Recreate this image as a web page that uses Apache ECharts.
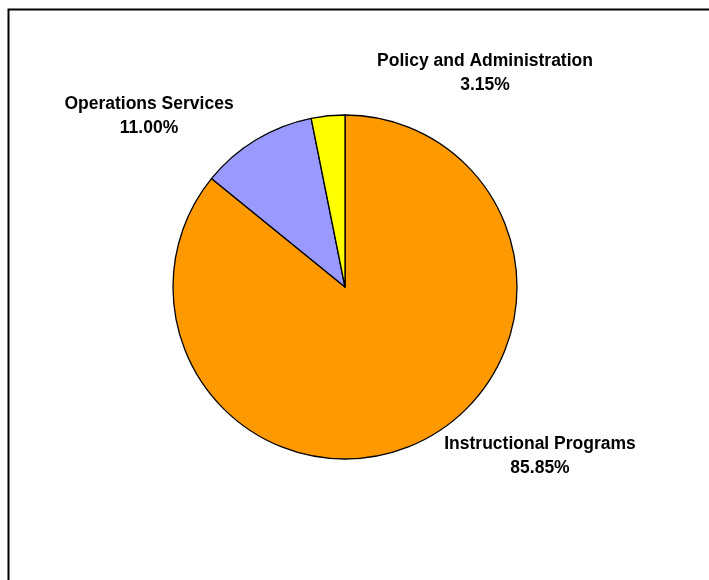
<!DOCTYPE html>
<html>
<head>
<meta charset="utf-8">
<script src="https://cdn.jsdelivr.net/npm/echarts@6/dist/echarts.min.js"></script>
<style>html,body{margin:0;padding:0;background:#fff;}#c{width:709px;height:580px;}</style>
</head>
<body>
<div id="c"></div>
<script>
const categories = ['Instructional Programs', 'Operations Services', 'Policy and Administration'];
const values = [85.85, 11.00, 3.15];
const colors = ['#FF9900', '#9999FF', '#FFFF00'];
const labelPos = [[540, 456], [149, 116], [485, 73]];

const chart = echarts.init(document.getElementById('c'), null, {renderer: 'canvas'});
chart.setOption({
  animation: false,
  backgroundColor: '#fff',
  graphic: [{
    type: 'rect', left: 6, top: 7, silent: true,
    shape: {width: 800, height: 700},
    style: {fill: 'none', stroke: '#000', lineWidth: 2}
  }],
  series: [{
    type: 'pie',
    center: [345, 287],
    radius: 172,
    startAngle: 90,
    clockwise: true,
    avoidLabelOverlap: false,
    itemStyle: {borderColor: '#000', borderWidth: 1.3},
    labelLine: {show: false},
    label: {
      show: true,
      position: 'outside',
      formatter: p => p.name + '\n' + p.value.toFixed(2) + '%',
      fontFamily: 'Liberation Sans, Arial, sans-serif',
      fontWeight: 'bold',
      fontSize: 17.5,
      lineHeight: 24,
      color: '#000',
      align: 'center'
    },
    labelLayout: function (params) {
      const p = labelPos[params.dataIndex];
      return {x: p[0], y: p[1], align: 'center', verticalAlign: 'middle'};
    },
    emphasis: {disabled: true},
    data: categories.map((c, i) => ({name: c, value: values[i], itemStyle: {color: colors[i]}}))
  }]
});
</script>
</body>
</html>
